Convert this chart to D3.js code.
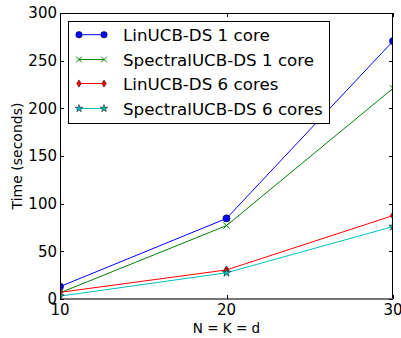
<!DOCTYPE html>
<html><head><meta charset="utf-8">
<script src="https://cdn.jsdelivr.net/npm/d3@7"></script>
<style>body{margin:0;background:#fff}svg{display:block}text{font-family:"DejaVu Sans",sans-serif;fill:#000}</style>
</head><body><div id="chart"></div>
<script>
const xValues = [10, 20, 30];
const linucb1 = [13, 84.5, 270.5];
const spectral1 = [6.5, 77, 221];
const linucb6 = [7, 30.5, 87.5];
const spectral6 = [3, 27.5, 76];
const seriesNames = ["LinUCB-DS 1 core", "SpectralUCB-DS 1 core", "LinUCB-DS 6 cores", "SpectralUCB-DS 6 cores"];
const seriesColors = ["#0000ff", "#008000", "#ff0000", "#00bfbf"];
const seriesMarkers = ["circle", "x", "diamond", "star"];
const xTicks = [10, 20, 30];
const yTicks = [0, 50, 100, 150, 200, 250, 300];

const W = 401, H = 338;
const m = {left: 60, right: 8, top: 13, bottom: 39};
const svg = d3.select("#chart").append("svg").attr("width", W).attr("height", H);
const x = d3.scaleLinear().domain([10, 30]).range([m.left, W - m.right]);
const y = d3.scaleLinear().domain([0, 300]).range([H - m.bottom, m.top]);
const series = [linucb1, spectral1, linucb6, spectral6];

svg.append("clipPath").attr("id", "clip").append("rect")
  .attr("x", m.left).attr("y", m.top).attr("width", W - m.right - m.left).attr("height", H - m.bottom - m.top);

function marker(g, type, color, cx, cy, sc) {
  sc = sc || 1;
  if (type === "circle") {
    g.append("circle").attr("cx", cx).attr("cy", cy).attr("r", 3.6 * sc).attr("fill", color).attr("stroke", "#000").attr("stroke-width", 0.5);
  } else if (type === "x") {
    const r = 3.2 * sc;
    g.append("path").attr("d", `M${cx-r},${cy-r}L${cx+r},${cy+r}M${cx-r},${cy+r}L${cx+r},${cy-r}`).attr("stroke", color).attr("stroke-width", 1);
  } else if (type === "diamond") {
    const w = 2.6 * sc, h = 4 * sc;
    g.append("path").attr("d", `M${cx},${cy-h}L${cx+w},${cy}L${cx},${cy+h}L${cx-w},${cy}Z`).attr("fill", color).attr("stroke", "#000").attr("stroke-width", 0.5);
  } else {
    g.append("path").attr("d", d3.symbol().type(d3.symbolStar).size(22 * sc * sc)()).attr("transform", `translate(${cx},${cy})`).attr("fill", color).attr("stroke", "#000").attr("stroke-width", 0.5);
  }
}

const plot = svg.append("g").attr("clip-path", "url(#clip)");
const line = d3.line().x((d, i) => x(xValues[i])).y(d => y(d));
series.forEach((s, k) => {
  plot.append("path").datum(s).attr("d", line).attr("fill", "none").attr("stroke", seriesColors[k]).attr("stroke-width", 1);
});
series.forEach((s, k) => {
  s.forEach((v, i) => marker(plot, seriesMarkers[k], seriesColors[k], x(xValues[i]), y(v)));
});

// frame
const x0 = m.left, x1 = W - m.right, y0 = m.top, y1 = H - m.bottom;
svg.append("rect").attr("x", x0 + 0.5).attr("y", y0 + 0.5).attr("width", x1 - x0 - 1).attr("height", y1 - y0).attr("fill", "none").attr("stroke", "#000").attr("stroke-width", 1);
svg.append("line").attr("x1", x0).attr("x2", x1).attr("y1", y1).attr("y2", y1).attr("stroke", "#777").attr("stroke-width", 2);

// ticks
const tl = 4;
yTicks.forEach(t => {
  const yy = Math.round(y(t)) + 0.5;
  svg.append("line").attr("x1", x0).attr("x2", x0 + tl).attr("y1", yy).attr("y2", yy).attr("stroke", "#000");
  svg.append("line").attr("x1", x1 - tl).attr("x2", x1).attr("y1", yy).attr("y2", yy).attr("stroke", "#000");
  svg.append("text").attr("x", x0 - 3).attr("y", y(t)).attr("dy", "0.36em").attr("text-anchor", "end").attr("font-size", 15).text(t);
});
xTicks.forEach(t => {
  const xx = Math.round(x(t)) + 0.5;
  svg.append("line").attr("x1", xx).attr("x2", xx).attr("y1", y1).attr("y2", y1 - tl).attr("stroke", "#000");
  svg.append("line").attr("x1", xx).attr("x2", xx).attr("y1", y0).attr("y2", y0 + tl).attr("stroke", "#000");
  svg.append("text").attr("x", x(t)).attr("y", y1 + 16).attr("text-anchor", "middle").attr("font-size", 15).text(t);
});
svg.append("text").attr("x", (x0 + x1) / 2).attr("y", 332.5).attr("text-anchor", "middle").attr("font-size", 13.5).text("N = K = d");
svg.append("text").attr("transform", `translate(22,${(y0 + y1) / 2}) rotate(-90)`).attr("text-anchor", "middle").attr("font-size", 14).text("Time (seconds)");

// legend
const lg = svg.append("g");
lg.append("rect").attr("x", 68.5).attr("y", 21.5).attr("width", 261).attr("height", 102).attr("fill", "#fff").attr("stroke", "#000").attr("stroke-width", 1);
const rowsY = [34.7, 59.5, 83.5, 108.5];
seriesNames.forEach((n, k) => {
  const yy = rowsY[k];
  lg.append("line").attr("x1", 79).attr("x2", 104).attr("y1", yy).attr("y2", yy).attr("stroke", seriesColors[k]).attr("stroke-width", 1);
  marker(lg, seriesMarkers[k], seriesColors[k], 79, yy, 0.9);
  marker(lg, seriesMarkers[k], seriesColors[k], 104, yy, 0.9);
  lg.append("text").attr("x", 123).attr("y", yy).attr("dy", "0.36em").attr("font-size", 16.7).text(n);
});
</script></body></html>
